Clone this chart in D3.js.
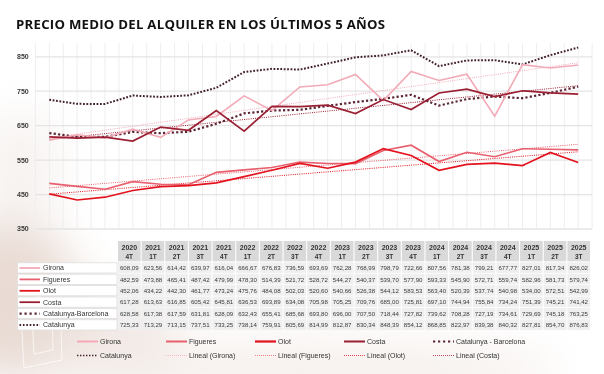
<!DOCTYPE html>
<html>
<head>
<meta charset="utf-8">
<script src="https://cdn.jsdelivr.net/npm/d3@7/dist/d3.min.js"></script>
<style>
  html, body { margin: 0; padding: 0; background: #ffffff; }
  svg { display: block; }
</style>
</head>
<body>
<svg id="chart" width="604" height="374"></svg>
<script>
// ---------- DATA ----------
const years    = ["2020","2021","2021","2021","2021","2022","2022","2022","2022","2023","2023","2023","2023","2024","2024","2024","2024","2025","2025","2025"];
const quarters = ["4T","1T","2T","3T","4T","1T","2T","3T","4T","1T","2T","3T","4T","1T","2T","3T","4T","1T","2T","3T"];
const yTicks   = [350, 450, 550, 650, 750, 850];

const girona    = [608.09,623.56,614.42,639.97,616.04,666.67,676.83,736.59,693.69,762.28,768.99,798.79,722.66,807.56,781.38,799.21,677.77,827.01,817.34,826.02];
const figueres  = [482.59,473.88,465.41,487.42,479.99,478.30,514.39,521.72,528.72,544.27,540.37,539.70,577.90,593.33,545.90,572.71,559.74,582.96,581.73,579.74];
const olot      = [452.06,434.22,442.30,461.77,473.24,475.76,484.08,502.03,520.60,540.66,526.38,544.12,583.53,563.40,520.39,537.74,540.98,534.00,572.51,542.99];
const costa     = [617.28,613.63,616.85,605.42,645.81,636.53,693.89,634.08,705.98,705.25,709.76,685.00,725.81,697.10,744.94,755.84,734.24,751.39,745.21,741.42];
const catBcn    = [628.58,617.38,617.59,631.81,628.09,632.43,655.41,685.68,693.80,696.00,707.50,718.44,727.82,739.62,708.28,727.19,734.61,729.69,745.18,763.25];
const catalunya = [725.33,713.29,713.15,737.51,733.25,738.14,759.91,805.69,814.99,812.87,830.34,848.39,854.12,868.85,822.97,839.38,840.32,827.81,854.70,876.83];

const seriesNames = ["Girona","Figueres","Olot","Costa","Catalunya-Barcelona","Catalunya"];
const trendNames  = ["Lineal (Girona)","Lineal (Figueres)","Lineal (Olot)","Lineal (Costa)"];

// ---------- STYLE ----------
const colors = { Girona:"#f3aab7", Figueres:"#e8606d", Olot:"#e3121d", Costa:"#9b1f33", "Catalunya-Barcelona":"#5c2433", Catalunya:"#42202b" };
const styles = {
  Girona:   { w:1.6, dash:null },
  Figueres: { w:1.6, dash:null },
  Olot:     { w:1.7, dash:null },
  Costa:    { w:1.7, dash:null },
  "Catalunya-Barcelona": { w:2.2, dash:"2.2 2.2" },
  Catalunya: { w:2.0, dash:"1.8 1.6" }
};
const seriesData = { Girona:girona, Figueres:figueres, Olot:olot, Costa:costa, "Catalunya-Barcelona":catBcn, Catalunya:catalunya };

const svg = d3.select("#chart");
const idx = d3.range(years.length);
const catKeys = idx.map(i => years[i] + " " + quarters[i]);

// ---------- background (faded photo feel) ----------
const defs = svg.append("defs");
const blur = defs.append("filter").attr("id","blur").attr("x","-50%").attr("y","-50%").attr("width","200%").attr("height","200%");
blur.append("feGaussianBlur").attr("stdDeviation", 22);
const bg = svg.append("g").attr("filter","url(#blur)");
bg.append("ellipse").attr("cx",10).attr("cy",300).attr("rx",70).attr("ry",80).attr("fill","#e2cfc6").attr("opacity",0.75);
bg.append("ellipse").attr("cx",90).attr("cy",330).attr("rx",90).attr("ry",40).attr("fill","#eadcd5").attr("opacity",0.6);
bg.append("ellipse").attr("cx",300).attr("cy",370).attr("rx",260).attr("ry",30).attr("fill","#f0e6e1").attr("opacity",0.6);
bg.append("ellipse").attr("cx",20).attr("cy",170).attr("rx",40).attr("ry",60).attr("fill","#f1ebe8").attr("opacity",0.6);
// faint outline shapes
const deco = svg.append("g").attr("fill","none").attr("stroke","#ffffff").attr("stroke-width",1).attr("opacity",0.7);
deco.append("path").attr("d","M20 300 L60 292 L62 360 L24 368 Z");
deco.append("path").attr("d","M32 312 L52 308 L53 350 L34 354 Z");

// ---------- scales ----------
const x = d3.scalePoint().domain(idx).range([49.3, 578.2]);
const step = x.step();
const y = d3.scaleLinear().domain([350, 890]).range([229, 43]);

// ---------- grid ----------
const grid = svg.append("g");
const vLines = d3.range(0, years.length * 2 + 1).map(k => x(0) - step/2 + k * step/2);
grid.selectAll("line.v").data(vLines).join("line")
  .attr("x1", d => d).attr("x2", d => d).attr("y1", y(890)).attr("y2", y(350))
  .attr("stroke", "#eeeeee").attr("stroke-width", 1);
grid.selectAll("line.h").data(yTicks).join("line")
  .attr("x1", x(0) - step/2).attr("x2", x(years.length-1) + step/2)
  .attr("y1", d => y(d)).attr("y2", d => y(d))
  .attr("stroke", "#e4e4e4").attr("stroke-width", 1.3);

// y axis labels
svg.append("g").selectAll("text").data(yTicks).join("text")
  .attr("x", 17).attr("y", d => y(d)).attr("dy", "0.35em")
  .attr("font-family", "Liberation Sans, Arial, sans-serif").attr("font-size", 7).attr("font-weight", 700)
  .attr("fill", "#3a3a3a").text(d => d);

// ---------- trend lines ----------
function regression(vals) {
  const n = vals.length, mx = d3.mean(idx), my = d3.mean(vals);
  let num = 0, den = 0;
  vals.forEach((v, i) => { num += (i - mx) * (v - my); den += (i - mx) * (i - mx); });
  const b = num / den, a = my - b * mx;
  return i => a + b * i;
}
const trendSeries = ["Girona","Figueres","Olot","Costa"];
const trends = svg.append("g");
trendSeries.forEach(name => {
  const f = regression(seriesData[name]);
  trends.append("line")
    .attr("x1", x(0)).attr("y1", y(f(0)))
    .attr("x2", x(years.length-1)).attr("y2", y(f(years.length-1)))
    .attr("stroke", colors[name]).attr("stroke-width", 1).attr("stroke-dasharray", "1 1.2");
});

// ---------- series lines ----------
const line = d3.line().x((d, i) => x(i)).y(d => y(d));
const drawOrder = ["Catalunya","Catalunya-Barcelona","Girona","Figueres","Costa","Olot"];
const lines = svg.append("g").attr("fill", "none");
drawOrder.forEach(name => {
  lines.append("path").datum(seriesData[name])
    .attr("d", line)
    .attr("stroke", colors[name])
    .attr("stroke-width", styles[name].w)
    .attr("stroke-dasharray", styles[name].dash)
    .attr("stroke-linejoin", "miter");
});

// ---------- table ----------
const font = "Liberation Sans, Arial, sans-serif";
const tx = d3.scaleBand().domain(idx).range([118, 590]).paddingInner(0.045);
const headTop = 241, headBottom = 261.3;
const rowTop = 262.3, rowH = 11.4;
const table = svg.append("g");

// header cells
const head = table.selectAll("g.head").data(idx).join("g");
head.append("rect")
  .attr("x", d => tx(d)).attr("y", headTop).attr("width", tx.bandwidth()).attr("height", headBottom - headTop)
  .attr("fill", "#d9d9d9");
head.append("text")
  .attr("x", d => tx(d) + tx.bandwidth()/2).attr("y", headTop + 8.5)
  .attr("text-anchor", "middle").attr("font-family", font).attr("font-size", 7).attr("font-weight", 700)
  .attr("fill", "#333").text(d => years[d]);
head.append("text")
  .attr("x", d => tx(d) + tx.bandwidth()/2).attr("y", headTop + 17.5)
  .attr("text-anchor", "middle").attr("font-family", font).attr("font-size", 6.5).attr("font-weight", 700)
  .attr("fill", "#333").text(d => quarters[d]);

const fmt = v => d3.format(".2f")(v).replace(".", ",");

seriesNames.forEach((name, r) => {
  const top = rowTop + r * rowH;
  const g = table.append("g");
  // label cell
  g.append("rect").attr("x", 17.5).attr("y", top + 0.5).attr("width", 99.5).attr("height", rowH - 1.2)
    .attr("fill", "#ffffff").attr("stroke", "#dedede").attr("stroke-width", 0.8);
  g.append("line").attr("x1", 19.5).attr("x2", 40).attr("y1", top + rowH/2).attr("y2", top + rowH/2)
    .attr("stroke", colors[name])
    .attr("stroke-width", name === "Catalunya-Barcelona" ? 2.2 : (name === "Catalunya" ? 1.8 : 1.8))
    .attr("stroke-dasharray", name === "Catalunya-Barcelona" ? "2.2 2.8" : (name === "Catalunya" ? "1.6 1.8" : null));
  g.append("text").attr("x", 43).attr("y", top + rowH/2).attr("dy", "0.35em")
    .attr("font-family", font).attr("font-size", 7).attr("fill", "#333").text(name);
  // data cells
  g.selectAll("rect.c").data(seriesData[name]).join("rect")
    .attr("x", (d, i) => tx(i)).attr("y", top).attr("width", tx.bandwidth()).attr("height", rowH - 0.8)
    .attr("fill", "#efefef");
  g.selectAll("text.c").data(seriesData[name]).join("text")
    .attr("x", (d, i) => tx(i) + tx.bandwidth()/2).attr("y", top + rowH/2).attr("dy", "0.35em")
    .attr("text-anchor", "middle").attr("font-family", font).attr("font-size", 6.1)
    .attr("fill", "#3a3a3a").text(d => fmt(d));
});

// ---------- legend ----------
const legendItems = [
  { name:"Girona", kind:"solid", key:"Girona" },
  { name:"Figueres", kind:"solid", key:"Figueres" },
  { name:"Olot", kind:"solid", key:"Olot" },
  { name:"Costa", kind:"solid", key:"Costa" },
  { name:"Catalunya - Barcelona", kind:"bigdot", key:"Catalunya-Barcelona" },
  { name:"Catalunya", kind:"smalldot", key:"Catalunya" },
  { name:trendNames[0], kind:"trend", key:"Girona" },
  { name:trendNames[1], kind:"trend", key:"Figueres" },
  { name:trendNames[2], kind:"trend", key:"Olot" },
  { name:trendNames[3], kind:"trend", key:"Costa" }
];
const legX = [77, 166, 255, 344, 433];
const legY = [341.5, 355.5];
const leg = svg.append("g");
legendItems.forEach((it, k) => {
  const lx = legX[k % 5], ly = legY[Math.floor(k / 5)];
  let w = 2, dash = null;
  if (it.kind === "bigdot") { w = 2.2; dash = "2.2 2.8"; }
  if (it.kind === "smalldot") { w = 1.6; dash = "1.4 1.6"; }
  if (it.kind === "trend") { w = 0.8; dash = "1 1"; }
  if (it.key === "Olot" && it.kind === "solid") w = 2.2;
  leg.append("line").attr("x1", lx).attr("x2", lx + 21).attr("y1", ly).attr("y2", ly)
    .attr("stroke", colors[it.key]).attr("stroke-width", w).attr("stroke-dasharray", dash);
  leg.append("text").attr("x", lx + 23).attr("y", ly).attr("dy", "0.35em")
    .attr("font-family", font).attr("font-size", 7).attr("fill", "#333").text(it.name);
});

// ---------- title ----------
svg.append("text")
  .attr("x", 16).attr("y", 28.5)
  .attr("font-family", "Open Sans, Liberation Sans, sans-serif").attr("font-size", 13.2).attr("font-weight", 700)
  .attr("fill", "#111")
  .attr("textLength", 369).attr("lengthAdjust", "spacing")
  .text("PRECIO MEDIO DEL ALQUILER EN LOS ÚLTIMOS 5 AÑOS");
</script>
</body>
</html>
